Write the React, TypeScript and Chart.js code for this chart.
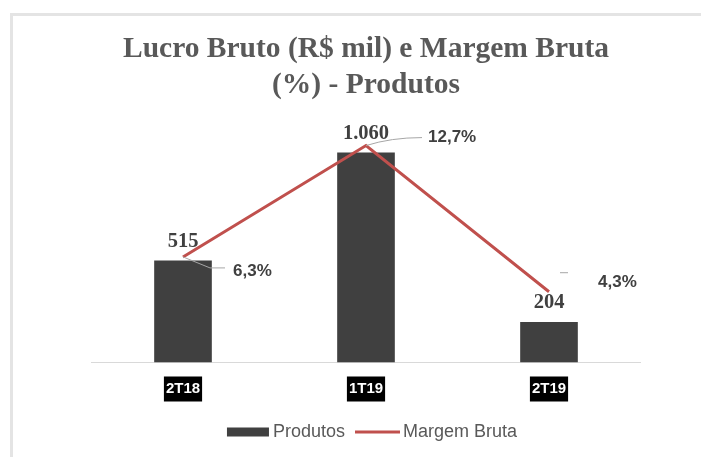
import React, { useEffect, useRef } from 'react';
import { Chart, registerables } from 'chart.js';

Chart.register(...registerables);

const CATEGORIES = ['2T18', '1T19', '2T19'];
const LUCRO_BRUTO = [515, 1060, 204];
const MARGEM_BRUTA = [6.3, 12.7, 4.3];
const SERIES_NAMES = ['Produtos', 'Margem Bruta'];
const TITLE_LINES = ['Lucro Bruto (R$ mil) e Margem Bruta', '(%) - Produtos'];

const BAR_COLOR = '#404040';
const LINE_COLOR = '#C0504D';
const TEXT_COLOR = '#404040';
const TITLE_COLOR = '#595959';
const LEGEND_COLOR = '#595959';

function fmtThousands(v: number): string {
  const s = Math.round(v).toString();
  return s.replace(/\B(?=(\d{3})+(?!\d))/g, '.');
}
function fmtPct(v: number): string {
  return v.toFixed(1).replace('.', ',') + '%';
}

// label placement relative to each line point: [dx, dy]
const PCT_LABEL_OFFSETS = [
  [50, 14],
  [62, -8],
  [49, -9],
];

const labelsPlugin = {
  id: 'customLabels',
  afterDatasetsDraw(chart: any) {
    const ctx = chart.ctx as CanvasRenderingContext2D;
    ctx.save();
    // bar value labels
    const barMeta = chart.getDatasetMeta(0);
    ctx.font = 'bold 20.5px "Liberation Serif"';
    ctx.fillStyle = TEXT_COLOR;
    ctx.textAlign = 'center';
    ctx.textBaseline = 'middle';
    barMeta.data.forEach((el: any, i: number) => {
      ctx.fillText(fmtThousands(LUCRO_BRUTO[i]), el.x, el.y - 19);
    });
    // line labels with leader lines
    const lineMeta = chart.getDatasetMeta(1);
    ctx.font = 'bold 17px "Liberation Sans"';
    ctx.textAlign = 'left';
    lineMeta.data.forEach((el: any, i: number) => {
      const [dx, dy] = PCT_LABEL_OFFSETS[i];
      const lx = el.x + dx;
      const ly = el.y + dy;
      ctx.strokeStyle = '#a6a6a6';
      ctx.lineWidth = 1;
      ctx.beginPath();
      if (i === 0) {
        ctx.moveTo(el.x, el.y);
        ctx.lineTo(el.x + 27, el.y + 11);
        ctx.lineTo(lx - 8, el.y + 11);
      } else if (i === 1) {
        ctx.moveTo(el.x, el.y);
        ctx.quadraticCurveTo(el.x + 25, el.y - 8, lx - 6, ly);
      } else {
        ctx.moveTo(el.x + 11, el.y - 19);
        ctx.lineTo(el.x + 19, el.y - 19);
      }
      ctx.stroke();
      ctx.fillStyle = TEXT_COLOR;
      ctx.fillText(fmtPct(MARGEM_BRUTA[i]), lx, ly);
    });
    ctx.restore();
  },
};

const legendPlugin = {
  id: 'customLegend',
  afterDraw(chart: any) {
    const ctx = chart.ctx as CanvasRenderingContext2D;
    ctx.save();
    ctx.font = '18px "Liberation Sans"';
    const w1 = ctx.measureText(SERIES_NAMES[0]).width;
    const w2 = ctx.measureText(SERIES_NAMES[1]).width;
    const sw1 = 42;
    const sw2 = 45;
    const gap = 4;
    const between = 10;
    const total = sw1 + gap + w1 + between + sw2 + 3 + w2;
    const cx = (chart.chartArea.left + chart.chartArea.right) / 2 + 6;
    let x = cx - total / 2;
    const y = chart.height - 25;
    ctx.fillStyle = BAR_COLOR;
    ctx.fillRect(x, y - 4.5, sw1, 9);
    x += sw1 + gap;
    ctx.fillStyle = LEGEND_COLOR;
    ctx.textAlign = 'left';
    ctx.textBaseline = 'middle';
    ctx.fillText(SERIES_NAMES[0], x, y);
    x += w1 + between;
    ctx.strokeStyle = LINE_COLOR;
    ctx.lineWidth = 3;
    ctx.beginPath();
    ctx.moveTo(x, y);
    ctx.lineTo(x + sw2, y);
    ctx.stroke();
    x += sw2 + 3;
    ctx.fillStyle = LEGEND_COLOR;
    ctx.fillText(SERIES_NAMES[1], x, y);
    ctx.restore();
  },
};

export default function App() {
  const canvasRef = useRef<HTMLCanvasElement | null>(null);

  useEffect(() => {
    if (!canvasRef.current) return;
    const chart = new Chart(canvasRef.current, {
      type: 'bar',
      data: {
        labels: CATEGORIES,
        datasets: [
          {
            type: 'bar',
            label: SERIES_NAMES[0],
            data: LUCRO_BRUTO,
            backgroundColor: BAR_COLOR,
            borderWidth: 0,
            barPercentage: 0.9,
            categoryPercentage: 0.35,
            yAxisID: 'y',
            order: 1,
          },
          {
            type: 'line',
            label: SERIES_NAMES[1],
            data: MARGEM_BRUTA,
            borderColor: LINE_COLOR,
            backgroundColor: LINE_COLOR,
            borderWidth: 3,
            pointRadius: 0,
            tension: 0,
            yAxisID: 'y1',
            order: 0,
          },
        ],
      },
      options: {
        responsive: false,
        animation: false,
        layout: {
          padding: { left: 78.5, right: 60.5, top: 0, bottom: 41.5 },
        },
        plugins: {
          legend: { display: false },
          tooltip: { enabled: false },
          title: {
            display: true,
            text: TITLE_LINES,
            color: TITLE_COLOR,
            font: { family: '"Liberation Serif"', size: 29.5, weight: 'bold', lineHeight: 1.2 },
            padding: { top: 16, bottom: 16 },
          },
        },
        scales: {
          x: {
            grid: { display: false, drawTicks: false },
            border: { display: true, color: '#d9d9d9', width: 1 },
            ticks: {
              color: '#ffffff',
              font: { family: '"Liberation Sans"', size: 15, weight: 'bold', lineHeight: 1.2 },
              padding: 17.5,
              showLabelBackdrop: true,
              backdropColor: '#000000',
              backdropPadding: { x: 2, y: 3.5 },
            },
          },
          y: {
            display: false,
            min: 0,
            max: 1230,
          },
          y1: {
            display: false,
            position: 'right',
            min: 0.23,
            max: 14.24,
          },
        },
      },
      plugins: [labelsPlugin, legendPlugin],
    } as any);
    return () => chart.destroy();
  }, []);

  return (
    <div
      style={{
        position: 'absolute',
        left: 10,
        top: 13,
        width: 691,
        height: 444,
        boxSizing: 'border-box',
        borderLeft: '3px solid #e4e4e4',
        borderTop: '3px solid #e4e4e4',
        background: '#ffffff',
        overflow: 'hidden',
      }}
    >
      <canvas ref={canvasRef} width={688} height={441} style={{ display: 'block' }} />
    </div>
  );
}
